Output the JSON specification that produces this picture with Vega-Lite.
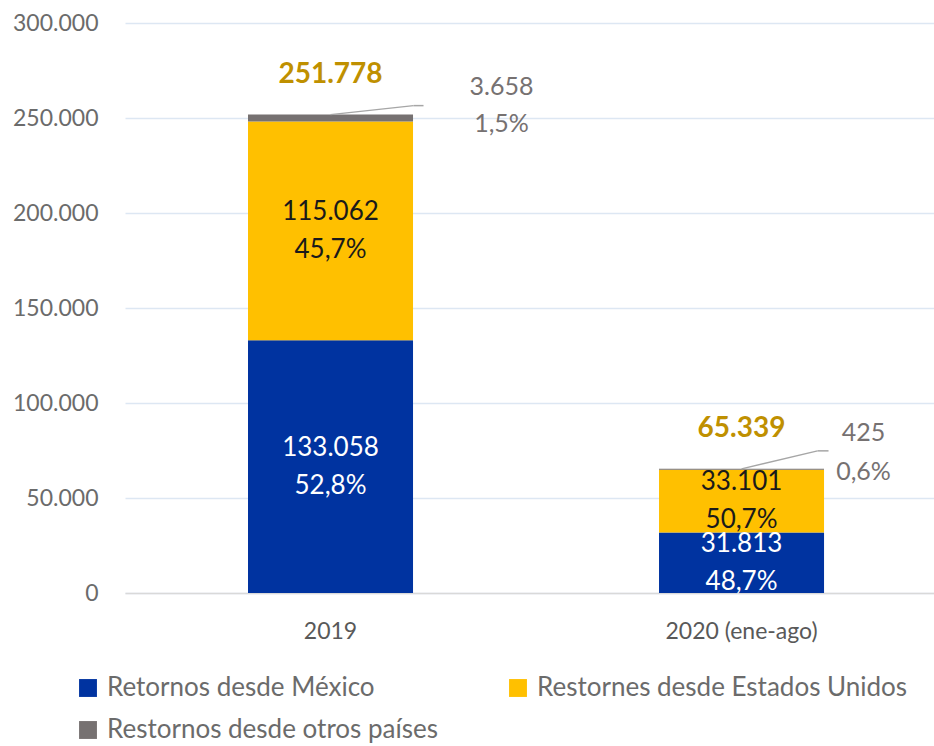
{
  "$schema": "https://vega.github.io/schema/vega-lite/v6.json",
  "autosize": {"type": "none"},
  "width": 809,
  "height": 570,
  "padding": {"left": 125, "top": 23, "right": 0, "bottom": 153},
  "background": "white",
  "config": {
    "locale": {"number": {"decimal": ",", "thousands": ".", "grouping": [3], "currency": ["", " €"]}},
    "font": "Lato",
    "view": {"stroke": null}
  },
  "data": {"values": [
    {"periodo": "2019", "serie": "Retornos desde México", "valor": 133058, "pct": 0.528},
    {"periodo": "2019", "serie": "Restornes desde Estados Unidos", "valor": 115062, "pct": 0.457},
    {"periodo": "2019", "serie": "Restornos desde otros países", "valor": 3658, "pct": 0.015},
    {"periodo": "2020 (ene-ago)", "serie": "Retornos desde México", "valor": 31813, "pct": 0.487},
    {"periodo": "2020 (ene-ago)", "serie": "Restornes desde Estados Unidos", "valor": 33101, "pct": 0.507},
    {"periodo": "2020 (ene-ago)", "serie": "Restornos desde otros países", "valor": 425, "pct": 0.006}
  ]},
  "transform": [
    {"calculate": "indexof(['Retornos desde México','Restornes desde Estados Unidos','Restornos desde otros países'], datum.serie)", "as": "orden"},
    {"stack": "valor", "groupby": ["periodo"], "sort": [{"field": "orden", "order": "ascending"}], "as": ["v0", "v1"]},
    {"calculate": "(datum.v0 + datum.v1) / 2", "as": "mid"}
  ],
  "encoding": {
    "x": {
      "field": "periodo", "type": "nominal", "title": null,
      "scale": {"paddingInner": 0.5985, "paddingOuter": 0.2834, "align": 0.528},
      "axis": {"labelAngle": 0, "labelFontSize": 23, "labelColor": "#595959", "ticks": false, "domainColor": "#d9d9d9", "domainWidth": 1.5, "labelPadding": 27}
    }
  },
  "layer": [
    {
      "mark": {"type": "bar"},
      "encoding": {
        "y": {
          "field": "v1", "type": "quantitative", "title": null,
          "scale": {"domain": [0, 300000], "nice": false},
          "axis": {"values": [0, 50000, 100000, 150000, 200000, 250000, 300000], "format": ",.0f", "labelFontSize": 23, "labelColor": "#6b6b6b", "ticks": false, "domain": false, "gridColor": "#dde7f3", "gridWidth": 1.5, "labelPadding": 27}
        },
        "y2": {"field": "v0"},
        "color": {
          "field": "serie", "type": "nominal",
          "scale": {"domain": ["Retornos desde México", "Restornes desde Estados Unidos", "Restornos desde otros países"], "range": ["#0033a0", "#ffc000", "#767171"]},
          "legend": {"title": null, "orient": "none", "legendX": -50, "legendY": 652, "direction": "horizontal", "columns": 2, "symbolType": "square", "symbolSize": 320, "symbolStrokeWidth": 0, "labelFontSize": 26, "labelColor": "#6b6b6b", "labelLimit": 500, "labelOffset": 6, "columnPadding": 67, "rowPadding": 16}
        }
      }
    },
    {
      "transform": [{"filter": "datum.orden < 2"}],
      "mark": {"type": "text", "fontSize": 26, "dy": -19},
      "encoding": {
        "y": {"field": "mid", "type": "quantitative"},
        "text": {"field": "valor", "type": "quantitative", "format": ",.0f"},
        "fill": {"condition": {"test": "datum.orden == 0", "value": "white"}, "value": "#1a1a1a"}
      }
    },
    {
      "transform": [{"filter": "datum.orden < 2"}],
      "mark": {"type": "text", "fontSize": 26, "dy": 19},
      "encoding": {
        "y": {"field": "mid", "type": "quantitative"},
        "text": {"field": "pct", "type": "quantitative", "format": ".1%"},
        "fill": {"condition": {"test": "datum.orden == 0", "value": "white"}, "value": "#1a1a1a"}
      }
    },
    {
      "transform": [{"aggregate": [{"op": "sum", "field": "valor", "as": "total"}], "groupby": ["periodo"]}],
      "mark": {"type": "text", "fontSize": 28, "fontWeight": "bold", "color": "#bf9000", "dy": -40},
      "encoding": {
        "y": {"field": "total", "type": "quantitative"},
        "text": {"field": "total", "type": "quantitative", "format": ",.0f"}
      }
    },
    {
      "transform": [{"filter": "datum.orden == 2 && datum.periodo == '2019'"}],
      "mark": {"type": "rule", "color": "#a6a6a6", "strokeWidth": 1.5, "x2Offset": 83, "y2Offset": -9},
      "encoding": {
        "y": {"field": "v1", "type": "quantitative"},
        "y2": {"field": "v1"},
        "x2": {"field": "periodo"}
      }
    },
    {
      "transform": [{"filter": "datum.orden == 2 && datum.periodo == '2019'"}],
      "mark": {"type": "rule", "color": "#a6a6a6", "strokeWidth": 1.5, "xOffset": 83, "x2Offset": 93, "yOffset": -9, "y2Offset": -9},
      "encoding": {
        "y": {"field": "v1", "type": "quantitative"},
        "y2": {"field": "v1"},
        "x2": {"field": "periodo"}
      }
    },
    {
      "transform": [{"filter": "datum.orden == 2 && datum.periodo != '2019'"}],
      "mark": {"type": "rule", "color": "#a6a6a6", "strokeWidth": 1.5, "x2Offset": 76, "y2Offset": -18},
      "encoding": {
        "y": {"field": "v1", "type": "quantitative"},
        "y2": {"field": "v1"},
        "x2": {"field": "periodo"}
      }
    },
    {
      "transform": [{"filter": "datum.orden == 2 && datum.periodo != '2019'"}],
      "mark": {"type": "rule", "color": "#a6a6a6", "strokeWidth": 1.5, "xOffset": 76, "x2Offset": 87, "yOffset": -18, "y2Offset": -18},
      "encoding": {
        "y": {"field": "v1", "type": "quantitative"},
        "y2": {"field": "v1"},
        "x2": {"field": "periodo"}
      }
    },
    {
      "transform": [{"filter": "datum.orden == 2 && datum.periodo == '2019'"}],
      "mark": {"type": "text", "fontSize": 25, "color": "#767171", "dx": 171, "dy": -28},
      "encoding": {
        "y": {"field": "v1", "type": "quantitative"},
        "text": {"field": "valor", "type": "quantitative", "format": ",.0f"}
      }
    },
    {
      "transform": [{"filter": "datum.orden == 2 && datum.periodo == '2019'"}],
      "mark": {"type": "text", "fontSize": 25, "color": "#767171", "dx": 171, "dy": 9},
      "encoding": {
        "y": {"field": "v1", "type": "quantitative"},
        "text": {"field": "pct", "type": "quantitative", "format": ".1%"}
      }
    },
    {
      "transform": [{"filter": "datum.orden == 2 && datum.periodo != '2019'"}],
      "mark": {"type": "text", "fontSize": 25, "color": "#767171", "dx": 122, "dy": -36},
      "encoding": {
        "y": {"field": "v1", "type": "quantitative"},
        "text": {"field": "valor", "type": "quantitative", "format": ",.0f"}
      }
    },
    {
      "transform": [{"filter": "datum.orden == 2 && datum.periodo != '2019'"}],
      "mark": {"type": "text", "fontSize": 25, "color": "#767171", "dx": 122, "dy": 3},
      "encoding": {
        "y": {"field": "v1", "type": "quantitative"},
        "text": {"field": "pct", "type": "quantitative", "format": ".1%"}
      }
    }
  ]
}
